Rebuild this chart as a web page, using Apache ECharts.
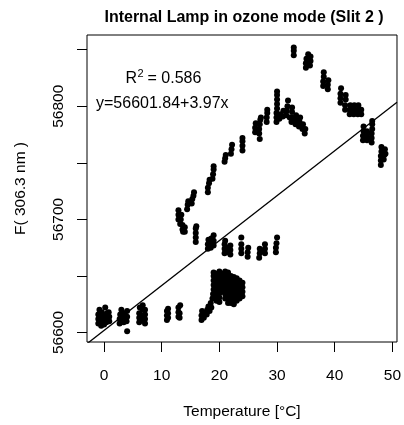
<!DOCTYPE html>
<html>
<head>
<meta charset="utf-8">
<script src="https://cdn.jsdelivr.net/npm/echarts@6/dist/echarts.min.js"></script>
<style>
html,body{margin:0;padding:0;background:#fff;}
#chart{width:404px;height:425px;}
</style>
</head>
<body>
<div id="chart"></div>
<script>
// ---- data ----
const chartTitle = 'Internal Lamp in ozone mode (Slit 2 )';
const xTitle = 'Temperature [°C]';
const yTitle = 'F( 306.3 nm )';
const xTicks = [0, 10, 20, 30, 40, 50];
const yTicks = [56600, 56650, 56700, 56750, 56800, 56850];
const yLabels = [56600, 56700, 56800];
const xRange = [-2.96, 50.8];
const yRange = [56591.6, 56863];
const intercept = 56601.84;
const slope = 3.97;
const rSquared = '0.586';

// cold start cluster (0..13 °C)
const coldGroup = [
  [-1.0,56608],[-1.0,56612],[-1.0,56616],[-0.8,56620],[-0.5,56606],[-0.5,56610],[-0.5,56614],[-0.4,56618],
  [0.0,56607],[0.0,56611],[0.0,56615],[0.2,56622],[0.4,56609],[0.5,56613],[0.5,56617],[0.9,56610],[0.9,56614],[0.8,56618],
  [2.7,56608],[2.7,56612],[2.8,56616],[3.0,56620],[3.4,56609],[3.5,56613],[3.5,56617],[3.9,56610],[4.0,56614],[4.0,56619],[4.0,56601],
  [6.1,56609],[6.1,56613],[6.1,56617],[6.2,56622],[6.6,56611],[6.7,56615],[6.7,56620],[6.7,56624],[7.1,56608],[7.1,56612],[7.1,56616],[7.1,56620],
  [10.9,56611],[10.9,56615],[10.9,56619],[11.1,56613],[11.1,56617],[11.1,56621],
  [12.9,56614],[12.9,56618],[12.9,56622],[13.1,56613],[13.1,56617],[13.2,56624]
];

// lower branch (17..24 °C)
const lowerBranch = [
  [16.9,56611],[16.9,56615],[17.0,56619],[17.3,56613],[17.4,56617],[17.8,56616],[17.9,56620],[18.1,56623],
  [18.3,56619],[18.5,56626],[18.6,56622],[18.8,56630],[18.9,56634],
  [19.0,56638],[19.0,56642],[19.0,56646],[19.0,56650],[19.0,56653],
  [19.5,56628],[19.5,56632],[19.5,56636],[19.5,56640],[19.5,56644],[19.5,56648],[19.5,56652],
  [20.0,56627],[20.0,56631],[20.0,56635],[20.0,56639],[20.0,56643],[20.0,56647],[20.0,56651],[20.0,56654],
  [20.5,56636],[20.5,56640],[20.5,56644],[20.5,56648],[20.5,56652],
  [21.0,56630],[21.0,56634],[21.0,56638],[21.0,56642],[21.0,56646],[21.0,56650],[21.0,56654],
  [21.5,56626],[21.5,56630],[21.5,56634],[21.5,56638],[21.5,56642],[21.5,56646],[21.5,56650],[21.5,56653],
  [22.0,56626],[22.0,56630],[22.0,56634],[22.0,56638],[22.0,56642],[22.0,56646],[22.0,56650],
  [22.5,56625],[22.5,56629],[22.5,56633],[22.5,56637],[22.5,56641],[22.5,56645],[22.5,56649],
  [23.0,56628],[23.0,56632],[23.0,56636],[23.0,56640],[23.0,56644],[23.0,56648],
  [23.5,56630],[23.5,56634],[23.5,56638],[23.5,56642],[23.5,56646],
  [24.0,56632],[24.0,56636],[24.0,56640],[24.0,56644]
];

// middle branch (16..30 °C)
const middleBranch = [
  [15.9,56680],[15.9,56684],[15.9,56688],[15.9,56692],[16.0,56694],
  [18.0,56674],[18.0,56678],[18.1,56682],[18.5,56675],[18.6,56679],[18.6,56683],[19.0,56686],[19.0,56677],[19.0,56681],
  [20.9,56670],[20.9,56674],[20.9,56678],[21.0,56681],[21.5,56671],[21.5,56675],[21.9,56669],[21.9,56673],[21.9,56677],
  [23.8,56670],[23.8,56674],[23.8,56678],[23.8,56684],[24.9,56667],[24.9,56671],[25.0,56675],
  [26.9,56666],[27.0,56670],[27.0,56674],[27.5,56672],[27.9,56670],[27.9,56674],[27.9,56678],
  [29.8,56671],[29.8,56675],[29.9,56679],[30.0,56684]
];

// upper rising branch (13..35 °C)
const upperBranch = [
  [12.9,56700],[12.9,56704],[12.9,56708],[13.2,56696],[13.3,56700],[13.4,56704],[13.6,56691],[13.6,56695],[13.7,56689],
  [14.0,56689],[14.0,56693],
  [14.4,56709],[14.5,56713],[14.6,56716],
  [15.2,56714],[15.3,56718],[15.5,56721],[15.6,56724],
  [18.0,56724],[18.0,56728],[18.2,56732],[18.3,56735],
  [18.8,56736],[18.9,56740],[19.0,56744],[19.0,56747],
  [20.9,56751],[21.0,56754],[21.1,56757],
  [22.0,56758],[22.1,56762],[22.2,56766],
  [24.0,56761],[24.0,56765],[24.0,56769],[24.0,56772],
  [26.2,56777],[26.2,56781],[26.3,56785],[26.9,56776],[26.9,56780],[27.0,56784],[27.1,56788],[27.2,56790],[27.0,56771],
  [28.2,56786],[28.2,56790],[28.3,56794],[28.3,56797],
  [29.9,56786],[29.9,56790],[29.9,56794],[30.0,56798],[30.0,56802],[30.0,56806],[30.0,56810],[30.0,56813],
  [30.4,56789],[30.6,56793],[31.0,56791],[31.1,56796],
  [31.6,56792],[31.7,56796],[31.8,56800],[31.9,56805],[32.2,56790],
  [32.5,56786],[32.5,56790],[32.6,56795],[32.6,56799],[33.2,56784],[33.2,56788],[33.3,56792],
  [33.8,56782],[33.9,56786],[34.0,56790],[34.4,56780],[34.5,56784],[34.8,56776],[34.9,56780]
];

// top declining branch (33..49 °C)
const decliningBranch = [
  [32.9,56845],[32.9,56849],[32.9,56852],
  [35.0,56834],[35.0,56838],[35.1,56842],[35.4,56846],[35.7,56836],[35.8,56840],[35.8,56844],
  [38.0,56818],[38.0,56822],[38.1,56826],[38.1,56830],[38.8,56815],[38.8,56819],[38.9,56823],
  [41.0,56803],[41.0,56807],[41.0,56811],[41.1,56816],[41.8,56797],[41.8,56801],[41.9,56806],[41.9,56810],
  [42.6,56793],[42.6,56797],[42.7,56801],[43.3,56793],[43.3,56797],[43.4,56801],[44.0,56793],[44.0,56797],[44.1,56801],[44.6,56793],[44.6,56797],
  [44.9,56770],[44.9,56774],[45.0,56778],[45.0,56782],[45.6,56770],[45.6,56774],[45.6,56778],
  [46.4,56768],[46.4,56772],[46.4,56776],[46.5,56780],[46.5,56784],[46.5,56787],
  [48.0,56748],[48.0,56752],[48.0,56756],[48.1,56760],[48.1,56764],[48.5,56753],[48.6,56757],[48.7,56762],[48.8,56758]
];

// ---- chart ----
const allPoints = [].concat(coldGroup, lowerBranch, middleBranch, upperBranch, decliningBranch);
const fitLine = [
  [xRange[0], intercept + slope * xRange[0]],
  [xRange[1], intercept + slope * xRange[1]]
];
const FONT = '"Liberation Sans", Arial, Helvetica, sans-serif';

const chart = echarts.init(document.getElementById('chart'), null, {renderer: 'canvas'});
chart.setOption({
  animation: false,
  backgroundColor: '#fff',
  title: {
    text: chartTitle, left: 239, top: 5, textAlign: 'center',
    textStyle: {fontFamily: FONT, fontSize: 16, fontWeight: 'bold', color: '#000'}
  },
  grid: {left: 87, top: 35, width: 314, height: 314, show: true, borderColor: '#000', borderWidth: 1, backgroundColor: 'transparent'},
  xAxis: {
    type: 'value', min: xRange[0], max: xRange[1],
    name: xTitle, nameLocation: 'middle', nameGap: 62,
    nameTextStyle: {fontFamily: FONT, fontSize: 15.5, color: '#000'},
    axisLine: {show: false, onZero: false},
    axisTick: {show: true, inside: false, length: 10, lineStyle: {color: '#000', width: 1}, customValues: xTicks},
    axisLabel: {fontFamily: FONT, fontSize: 15.5, color: '#000', margin: 26, customValues: xTicks},
    splitLine: {show: false}
  },
  yAxis: {
    type: 'value', min: yRange[0], max: yRange[1],
    name: yTitle, nameLocation: 'middle', nameGap: 58,
    nameTextStyle: {fontFamily: FONT, fontSize: 15.5, color: '#000'},
    axisLine: {show: false, onZero: false},
    axisTick: {show: true, inside: false, length: 10, lineStyle: {color: '#000', width: 1}, customValues: yTicks},
    axisLabel: {fontFamily: FONT, fontSize: 15.5, color: '#000', margin: 20, rotate: 90, customValues: yLabels,
      formatter: function (v) { return String(v); }},
    splitLine: {show: false}
  },
  graphic: [
    {type: 'text', left: 125.5, top: 71, style: {text: 'R', font: '16px ' + FONT, fill: '#000'}},
    {type: 'text', left: 137.5, top: 68, style: {text: '2', font: '11px ' + FONT, fill: '#000'}},
    {type: 'text', left: 147.5, top: 71, style: {text: '= ' + rSquared, font: '16px ' + FONT, fill: '#000'}},
    {type: 'text', left: 96, top: 96, style: {text: 'y=' + intercept.toFixed(2) + '+' + slope.toFixed(2) + 'x', font: '16px ' + FONT, fill: '#000'}}
  ],
  series: [
    {type: 'scatter', data: allPoints, symbol: 'circle', symbolSize: 6, itemStyle: {color: '#000', opacity: 1}, silent: true},
    {type: 'line', data: fitLine, showSymbol: false, clip: true, lineStyle: {color: '#000', width: 1.3}, silent: true}
  ]
});
</script>
</body>
</html>
